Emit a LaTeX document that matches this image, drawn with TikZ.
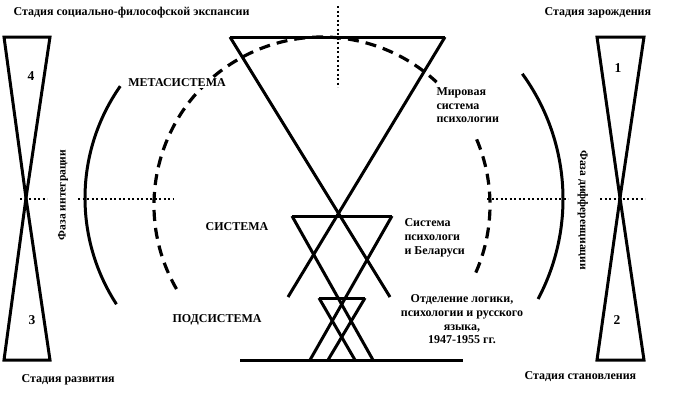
\documentclass[tikz,border=0pt]{standalone}
\usepackage{fontspec}
\setmainfont{Liberation Serif}

\begin{document}
\begin{tikzpicture}[
    x=1pt, y=-1pt,
    line width=3pt,
      txt/.style = {font=\bfseries\fontsize{12}{13.8}\selectfont, inner sep=0pt},
    block/.style = {txt, align=left},
      num/.style = {font=\bfseries\fontsize{13.5}{15}\selectfont, inner sep=0pt},
   phase/.style = {font=\bfseries\fontsize{11.5}{13}\selectfont, inner sep=0pt},
  dotline/.style = {line width=2.8pt, dash pattern=on 2.4pt off 2.1pt},
  dasharc/.style = {line width=3.2pt, dash pattern=on 11pt off 7pt}
                    ]
\useasboundingbox (0,0) rectangle (674,402);
% hourglasses
\coordinate (apexL) at (26,198);
\coordinate (apexR) at (620,198);
\draw (4,37) -- (50,37) -- (apexL) -- cycle;
\draw (apexL) -- (4,360) -- (50,360) -- cycle;
\draw (597,37) -- (644,37) -- (apexR) -- cycle;
\draw (apexR) -- (597,360) -- (644,360) -- cycle;
\node [num] (n4) at (31,76)  {4};
\node [num] (n3) at (32,320) {3};
\node [num] (n1) at (618,68) {1};
\node [num] (n2) at (617,320) {2};
% triangles
\coordinate (M-l) at (230,37);
\coordinate (M-r) at (445,37);
\coordinate (S-l) at (292,216);
\coordinate (S-r) at (392,216);
\coordinate (P-l) at (319,298);
\coordinate (P-r) at (365,298);
\draw (M-l) -- (M-r);
\draw (M-l) -- (390,297);
\draw (M-r) -- (288,297);
\draw (S-l) -- (S-r);
\draw (S-l) -- (373,360);
\draw (S-r) -- (310,360);
\draw (P-l) -- (P-r);
\draw (P-l) -- (355,360);
\draw (P-r) -- (328,360);
\draw (240,360) -- (463,360);
% arcs
\draw ([shift={(147:195)}]280,198) arc[start angle=147, end angle=215, radius=195];
\draw ([shift={(-36:213)}]350,199) arc[start angle=-36, end angle=28, radius=213];
\draw [dasharc] ([shift={(150:168)}]322,205) arc[start angle=150, end angle=313, radius=168];
\draw [dasharc] ([shift={(337:168)}]322,205) arc[start angle=337, end angle=386, radius=168];
%%
\draw [dotline] (20,199) -- (47,199);
\draw [dotline] (78,199) -- (174,199);
\draw [dotline] (487,199) -- (568,199);
\draw [dotline] (600,199) -- (645,199);
\draw [dotline] (338,6) -- (338,87);
% texts
\node [txt, anchor=west] (st4) at (12,13)  {Стадия социально-философской экспансии};
\node [txt, anchor=west] (st1) at (543,13) {Стадия зарождения};
\node [txt, anchor=west] (st3) at (20,380) {Стадия развития};
\node [txt, anchor=west] (st2) at (523,377) {Стадия становления};
\node [txt, fill=white, inner sep=1pt] (meta) at (177,83)  {МЕТАСИСТЕМА};
\node [txt] (sys)  at (237,227) {СИСТЕМА};
\node [txt] (sub)  at (217,320) {ПОДСИСТЕМА};
\node [block, anchor=north west] (world) at (435,86)  {Мировая\\система\\психологии};
\node [block, anchor=north west] (bel)   at (403,217) {Система\\психологи\\и Беларуси};
\node [txt, align=center, anchor=north] (dep) at (462,293)
      {Отделение логики,\\психологии и русского\\языка,\\1947-1955 гг.};
\node [phase, rotate=90]  (integ) at (63,195)  {Фаза интеграции};
\node [phase, rotate=-90] (diff)  at (583,210) {Фаза дифференциации};
\end{tikzpicture}
\end{document}
